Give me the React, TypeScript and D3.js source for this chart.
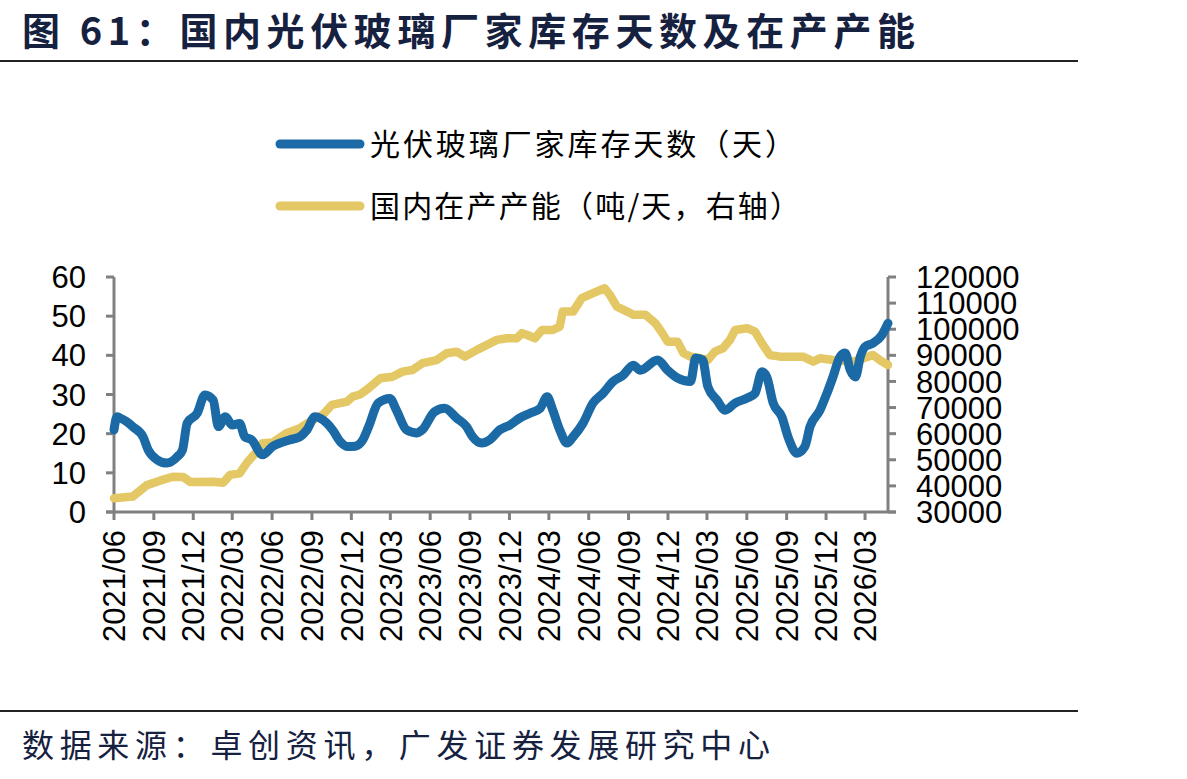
import { useEffect, useRef } from 'react';
import * as d3 from 'd3';

// 光伏玻璃厂家库存天数（天） - left axis
const invDates = [
    '2021-06-01', '2021-06-08', '2021-06-15', '2021-07-01', '2021-07-14', '2021-08-07', '2021-08-19',
    '2021-09-09', '2021-10-01', '2021-10-25', '2021-11-06', '2021-11-17', '2021-12-10', '2021-12-28',
    '2022-01-16', '2022-01-28', '2022-02-13', '2022-03-01', '2022-03-18', '2022-03-30', '2022-04-15',
    '2022-05-10', '2022-06-02', '2022-07-11', '2022-08-04', '2022-08-20', '2022-09-08', '2022-10-05',
    '2022-10-19', '2022-11-05', '2022-11-23', '2022-12-10', '2022-12-28', '2023-01-10', '2023-02-01',
    '2023-02-28', '2023-03-15', '2023-04-07', '2023-04-30', '2023-05-14', '2023-06-11', '2023-07-04',
    '2023-08-01', '2023-08-24', '2023-09-07', '2023-09-28', '2023-10-16', '2023-11-09', '2023-12-02',
    '2023-12-25', '2024-01-17', '2024-02-10', '2024-02-26', '2024-03-10', '2024-03-26', '2024-04-12',
    '2024-04-26', '2024-05-19', '2024-06-11', '2024-07-04', '2024-07-27', '2024-08-20', '2024-09-12',
    '2024-09-28', '2024-11-07', '2024-11-30', '2024-12-23', '2025-01-22', '2025-02-03', '2025-02-19',
    '2025-03-03', '2025-03-24', '2025-04-12', '2025-05-05', '2025-06-02', '2025-06-20', '2025-07-06',
    '2025-07-17', '2025-08-01', '2025-08-21', '2025-09-05', '2025-09-25', '2025-10-13', '2025-10-25',
    '2025-11-17', '2025-12-03', '2025-12-17', '2026-01-02', '2026-01-14', '2026-01-26', '2026-02-07',
    '2026-02-18', '2026-03-01', '2026-03-19', '2026-04-09', '2026-04-23'
];
const invValues = [
    21, 24.3, 24, 23, 21.8, 19.2, 15.8,
    13.3, 12.5, 14.1, 15.8, 22.7, 25.2, 29.9,
    28.6, 21.8, 24.3, 22.2, 22.6, 19.2, 18.4,
    14.6, 16.7, 18.4, 19.2, 20.9, 24.3, 22.7,
    20.9, 18, 16.7, 16.8, 18.5, 21.8, 27.8,
    29, 26, 21, 20.2, 21, 25.6, 26.5,
    24, 21.8, 19.2, 17.6, 18.4, 21, 22.2,
    24, 25.2, 26.5, 29.4, 26, 21, 17.6,
    19.2, 22.7, 27.8, 30.3, 33.3, 35, 37.5,
    36.2, 38.8, 36.2, 34.2, 33.3, 39.3, 38.8,
    32, 28.6, 26, 27.8, 29.1, 30.3, 35.8,
    34.5, 27.8, 24.3, 18.9, 15, 16.7, 21.8,
    26, 30.3, 34.5, 39.6, 40.6, 36.2, 34.5,
    39.6, 42.2, 43.1, 45.2, 48.2
];

// 国内在产产能（吨/天） - right axis
const capDates = [
    '2021-06-01', '2021-07-14', '2021-08-16', '2021-09-15', '2021-10-15', '2021-11-08', '2021-11-24',
    '2022-01-16', '2022-02-08', '2022-02-24', '2022-03-18', '2022-04-03', '2022-04-26', '2022-05-10',
    '2022-06-02', '2022-07-04', '2022-08-04', '2022-09-03', '2022-09-26', '2022-10-17', '2022-11-21',
    '2022-12-04', '2022-12-21', '2023-01-07', '2023-02-06', '2023-03-06', '2023-03-29', '2023-04-21',
    '2023-05-14', '2023-06-16', '2023-07-09', '2023-08-01', '2023-08-20', '2023-09-17', '2023-10-10',
    '2023-11-02', '2023-11-25', '2023-12-18', '2023-12-30', '2024-01-11', '2024-01-29', '2024-02-14',
    '2024-03-10', '2024-03-26', '2024-04-02', '2024-04-26', '2024-05-16', '2024-06-11', '2024-07-08',
    '2024-07-20', '2024-08-05', '2024-08-29', '2024-09-12', '2024-10-10', '2024-11-02', '2024-11-18',
    '2024-11-30', '2024-12-23', '2025-01-06', '2025-01-22', '2025-02-14', '2025-03-03', '2025-03-19',
    '2025-04-07', '2025-04-23', '2025-05-05', '2025-06-02', '2025-06-20', '2025-07-06', '2025-07-24',
    '2025-08-17', '2025-10-09', '2025-11-02', '2025-11-17', '2025-12-17', '2026-02-03', '2026-02-26',
    '2026-03-19', '2026-04-04', '2026-04-23'
];
const capValues = [
    35250, 35900, 40300, 42000, 43500, 43400, 41500,
    41600, 41200, 44200, 44800, 48650, 53100, 56300,
    56600, 60150, 62100, 65250, 67200, 71000, 72250,
    74200, 75000, 77000, 81200, 81800, 83750, 84400,
    87000, 88200, 90800, 91400, 89500, 92100, 94000,
    95900, 96550, 96550, 98500, 97800, 96550, 99700,
    99700, 101000, 106750, 106750, 111900, 113800, 115700,
    113100, 108650, 106750, 105500, 105500, 102300, 98500,
    95250, 95250, 90800, 89500, 88900, 88200, 91400,
    92700, 95900, 99700, 100400, 99100, 94600, 90150,
    89500, 89500, 87600, 88900, 88200, 87600, 88900,
    90150, 88200, 86300
];

const xTickLabels = [
    '2021/06', '2021/09', '2021/12', '2022/03', '2022/06', '2022/09', '2022/12', '2023/03',
    '2023/06', '2023/09', '2023/12', '2024/03', '2024/06', '2024/09', '2024/12', '2025/03',
    '2025/06', '2025/09', '2025/12', '2026/03'
];
const leftTicks = [0, 10, 20, 30, 40, 50, 60];
const rightTicks = [30000, 40000, 50000, 60000, 70000, 80000, 90000, 100000, 110000, 120000];

const seriesNames = ['光伏玻璃厂家库存天数（天）', '国内在产产能（吨/天，右轴）'];
const seriesColors = ['#1b6aa5', '#e4c865'];

const title = '图 61：国内光伏玻璃厂家库存天数及在产产能';
const source = '数据来源：卓创资讯，广发证券发展研究中心';

export default function App() {
    const svgRef = useRef<SVGSVGElement>(null);

    useEffect(() => {
        if (!svgRef.current) return;
        document.body.style.margin = '0';

        const svg = d3.select(svgRef.current);
        svg.selectAll('*').remove();

        const left = 114, right = 888, top = 277, bottom = 512;
        const cjk = '"Noto Sans CJK SC", sans-serif';
        const latin = '"Liberation Sans", Arial, sans-serif';
        const navy = '#16213f';
        const axisColor = '#808080';

        const parse = d3.timeParse('%Y-%m-%d');
        const inv = invDates.map((d, i) => ({ date: parse(d) as Date, value: invValues[i] }));
        const cap = capDates.map((d, i) => ({ date: parse(d) as Date, value: capValues[i] }));

        // Scales
        const xScale = d3.scaleTime()
            .domain([parse('2021-06-01') as Date, parse('2026-04-23') as Date])
            .range([left, right]);
        const yLeft = d3.scaleLinear().domain([0, 60]).range([bottom, top]);
        const yRight = d3.scaleLinear().domain([30000, 120000]).range([bottom, top]);

        // Title & footer
        svg.append('text')
            .attr('x', 22)
            .attr('y', 45)
            .attr('font-family', cjk)
            .attr('font-weight', 700)
            .attr('font-size', '38px')
            .attr('fill', navy)
            .attr('textLength', 893)
            .attr('lengthAdjust', 'spacing')
            .text(title);
        svg.append('line')
            .attr('x1', 0).attr('x2', 1078)
            .attr('y1', 61).attr('y2', 61)
            .attr('stroke', '#222').attr('stroke-width', 2);
        svg.append('line')
            .attr('x1', 0).attr('x2', 1078)
            .attr('y1', 711).attr('y2', 711)
            .attr('stroke', '#222').attr('stroke-width', 2);
        svg.append('text')
            .attr('x', 22)
            .attr('y', 757)
            .attr('font-family', cjk)
            .attr('font-size', '32px')
            .attr('fill', navy)
            .attr('textLength', 748)
            .attr('lengthAdjust', 'spacing')
            .text(source);

        // Legend
        const legendY = [144, 206];
        const legendLen = [425, 430];
        seriesNames.forEach((name, i) => {
            svg.append('line')
                .attr('x1', 280).attr('x2', 360)
                .attr('y1', legendY[i]).attr('y2', legendY[i])
                .attr('stroke', seriesColors[i])
                .attr('stroke-width', 9)
                .attr('stroke-linecap', 'round');
            svg.append('text')
                .attr('x', 370)
                .attr('y', legendY[i] + 11)
                .attr('font-family', cjk)
                .attr('font-size', '30px')
                .attr('fill', '#000')
                .attr('textLength', legendLen[i])
                .attr('lengthAdjust', 'spacing')
                .text(name);
        });

        // Axes
        const axisG = svg.append('g')
            .attr('stroke', axisColor)
            .attr('stroke-width', 3);
        axisG.append('line')
            .attr('x1', left).attr('x2', left)
            .attr('y1', top).attr('y2', bottom);
        axisG.append('line')
            .attr('x1', right).attr('x2', right)
            .attr('y1', top).attr('y2', bottom);
        axisG.append('line')
            .attr('x1', left - 8).attr('x2', right + 8)
            .attr('y1', bottom).attr('y2', bottom);

        leftTicks.forEach(t => {
            axisG.append('line')
                .attr('x1', left - 8).attr('x2', left)
                .attr('y1', yLeft(t)).attr('y2', yLeft(t));
            svg.append('text')
                .attr('x', 86)
                .attr('y', yLeft(t))
                .attr('dy', '0.36em')
                .attr('text-anchor', 'end')
                .attr('font-family', latin)
                .attr('font-size', '31px')
                .attr('fill', '#000')
                .text(t);
        });

        rightTicks.forEach(t => {
            axisG.append('line')
                .attr('x1', right).attr('x2', right + 8)
                .attr('y1', yRight(t)).attr('y2', yRight(t));
            svg.append('text')
                .attr('x', 916)
                .attr('y', yRight(t))
                .attr('dy', '0.36em')
                .attr('font-family', latin)
                .attr('font-size', '31px')
                .attr('fill', '#000')
                .text(t);
        });

        const tickParse = d3.timeParse('%Y/%m');
        xTickLabels.forEach(lbl => {
            const x = xScale(tickParse(lbl) as Date);
            axisG.append('line')
                .attr('x1', x).attr('x2', x)
                .attr('y1', bottom).attr('y2', bottom + 8);
            svg.append('text')
                .attr('transform', `translate(${x},${bottom + 18}) rotate(-90)`)
                .attr('dy', '0.36em')
                .attr('text-anchor', 'end')
                .attr('font-family', latin)
                .attr('font-size', '31px')
                .attr('fill', '#000')
                .text(lbl);
        });

        // Lines
        const capLine = d3.line<{ date: Date; value: number }>()
            .x(d => xScale(d.date))
            .y(d => yRight(d.value))
            .curve(d3.curveLinear);
        const invLine = d3.line<{ date: Date; value: number }>()
            .x(d => xScale(d.date))
            .y(d => yLeft(d.value))
            .curve(d3.curveMonotoneX);

        svg.append('path')
            .datum(cap)
            .attr('d', capLine)
            .attr('fill', 'none')
            .attr('stroke', seriesColors[1])
            .attr('stroke-width', 8.5)
            .attr('stroke-linejoin', 'round')
            .attr('stroke-linecap', 'round');

        svg.append('path')
            .datum(inv)
            .attr('d', invLine)
            .attr('fill', 'none')
            .attr('stroke', seriesColors[0])
            .attr('stroke-width', 9)
            .attr('stroke-linejoin', 'round')
            .attr('stroke-linecap', 'round');
    }, []);

    return (
        <svg
            ref={svgRef}
            width={1187}
            height={779}
            style={{ display: 'block', background: '#fff' }}
        />
    );
}
